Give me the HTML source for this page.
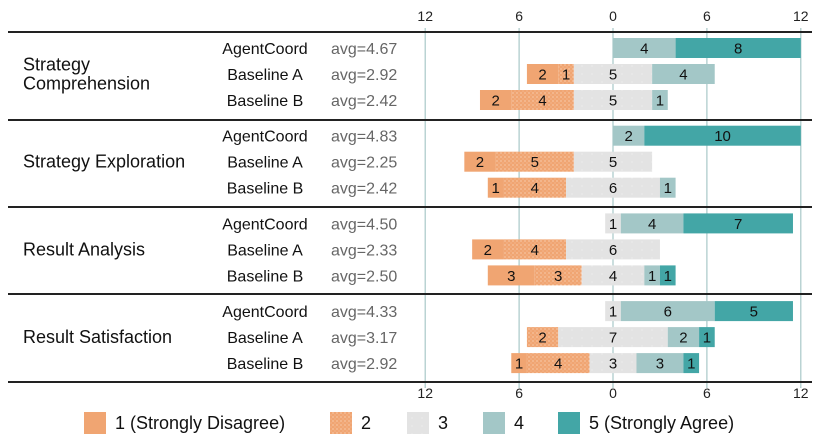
<!DOCTYPE html>
<html><head><meta charset="utf-8">
<style>
html,body{margin:0;padding:0;background:#fff;}
svg{display:block;font-family:"Liberation Sans",Arial,sans-serif;}
</style></head>
<body>
<svg id="chart" width="830" height="439" viewBox="0 0 830 439" xmlns="http://www.w3.org/2000/svg">
<defs>
<pattern id="dots2" width="4" height="4" patternUnits="userSpaceOnUse">
<rect width="4" height="4" fill="#f0a572"/>
<circle cx="1" cy="1" r="0.6" fill="#fbe0cc"/>
<circle cx="3" cy="3" r="0.5" fill="#f7cdb0"/>
</pattern>
<pattern id="dots3" width="10" height="8" patternUnits="userSpaceOnUse">
<rect width="10" height="8" fill="#e3e3e3"/>
<circle cx="2" cy="2" r="0.5" fill="#fafafa"/>
</pattern>
</defs>
<g id="grid"></g>
<g id="bars"></g>
<g id="labels"></g>
<g id="legend"></g>
</svg>
<script>
const groups = ["Strategy|Comprehension","Strategy Exploration","Result Analysis","Result Satisfaction"];
const methods = ["AgentCoord","Baseline A","Baseline B"];
const avgLabels = ["4.67","2.92","2.42","4.83","2.25","2.42","4.50","2.33","2.50","4.33","3.17","2.92"];
const cat1 = [0,2,2, 0,2,1, 0,2,3, 0,0,1];
const cat2 = [0,1,4, 0,5,4, 0,4,3, 0,2,4];
const cat3 = [0,5,5, 0,5,6, 1,6,4, 1,7,3];
const cat4 = [4,4,1, 2,0,1, 4,0,1, 6,2,3];
const cat5 = [8,0,0, 10,0,0, 7,0,1, 5,1,1];
const tickVals = [-12,-6,0,6,12];
const tickLabels = ["12","6","0","6","12"];
const legendLabels = ["1 (Strongly Disagree)","2","3","4","5 (Strongly Agree)"];

const NS="http://www.w3.org/2000/svg";
const X0=613, PX=15.65;
const xs = v => X0 + v*PX;
const fills=["#f0a572","url(#dots2)","url(#dots3)","#a3c7c7","#43a6a6"];
function mk(tag, attrs, parent, text){
  const e=document.createElementNS(NS,tag);
  for(const k in attrs) e.setAttribute(k,attrs[k]);
  if(text!==undefined) e.textContent=text;
  parent.appendChild(e); return e;
}
const grid=document.getElementById('grid'), bars=document.getElementById('bars'), labels=document.getElementById('labels'), legend=document.getElementById('legend');
const rowY = i => { const g=Math.floor(i/3), r=i%3; return 48 + g*87.7 + r*26; };
const sepY=[32,120,207,294,382];

tickVals.forEach((v,i)=>{
  const l=mk('line',{x1:xs(v),x2:xs(v),y1:28,y2:388,stroke:"#a8c8c8","stroke-width":1.2},grid);
  
  
  const t1=mk('text',{x:xs(v),y:21,"text-anchor":"middle","font-size":14,fill:"#222"},grid,tickLabels[i]);
  
  
  const t2=mk('text',{x:xs(v),y:398,"text-anchor":"middle","font-size":14,fill:"#222"},grid,tickLabels[i]);
  
  
});
sepY.forEach(y=>{
  const l=mk('line',{x1:8,x2:812,y1:y,y2:y,stroke:"#222","stroke-width":2},grid);
  
  
});

for(let i=0;i<12;i++){
  const c=[cat1[i],cat2[i],cat3[i],cat4[i],cat5[i]];
  let start=-(c[0]+c[1]+c[2]/2);
  const y=rowY(i);
  c.forEach((n,k)=>{
    if(n<=0){return;}
    const r=mk('rect',{x:xs(start),y:y-10,width:n*PX,height:20,fill:fills[k]},bars);
    
    
    const t=mk('text',{x:xs(start+n/2),y:y+5.5,"text-anchor":"middle","font-size":15,fill:"#111"},bars,String(n));
    
    
    start+=n;
  });
  const m=mk('text',{x:265,y:y+6,"text-anchor":"middle","font-size":16,fill:"#111"},labels,methods[i%3]);
  
  
  const a=mk('text',{x:331,y:y+6,"font-size":16,fill:"#666"},labels,"avg="+avgLabels[i]);
  
  
}
groups.forEach((g,gi)=>{
  const parts=g.split('|');
  const cy=rowY(gi*3+1);
  parts.forEach((p,pi)=>{
    const y=cy+6+(pi-(parts.length-1)/2)*19;
    const t=mk('text',{x:23,y:y,"font-size":18,fill:"#111"},labels,p);
    
    
  });
});
const lx=[84,330,407,483,558];
legendLabels.forEach((s,i)=>{
  const r=mk('rect',{x:lx[i],y:412,width:22,height:22,fill:fills[i]},legend);
  
  
  const t=mk('text',{x:lx[i]+31,y:429,"font-size":18,fill:"#111"},legend,s);
  
  
});
</script>
</body></html>
